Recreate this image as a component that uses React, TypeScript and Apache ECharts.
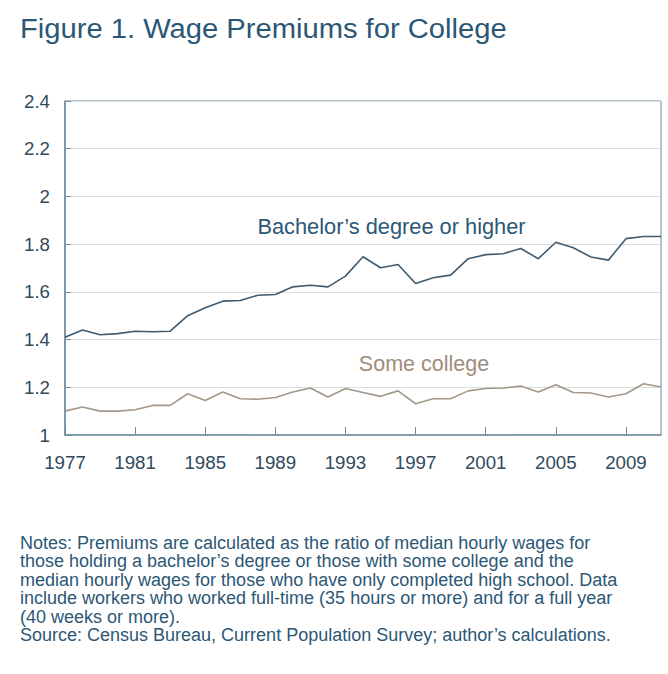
import React, { useEffect, useRef } from "react";
import * as echarts from "echarts";

const years: string[] = [];
for (let y = 1977; y <= 2011; y++) years.push(String(y));

const bachelors = [
  1.41, 1.44, 1.42, 1.425, 1.435, 1.433, 1.435, 1.5, 1.533, 1.561, 1.564, 1.586,
  1.589, 1.621, 1.628, 1.621, 1.666, 1.747, 1.701, 1.715, 1.635, 1.659, 1.67,
  1.739, 1.756, 1.76, 1.782, 1.739, 1.808, 1.785, 1.746, 1.733, 1.823, 1.832, 1.832,
];

const someCollege = [
  1.1, 1.117, 1.1, 1.1, 1.106, 1.124, 1.124, 1.173, 1.145, 1.18, 1.152, 1.15,
  1.157, 1.18, 1.197, 1.159, 1.195, 1.178, 1.162, 1.185, 1.131, 1.152, 1.152,
  1.185, 1.195, 1.197, 1.205, 1.18, 1.211, 1.178, 1.176, 1.159, 1.173, 1.215, 1.201,
];

const title = "Figure 1. Wage Premiums for College";
const bachelorsLabel = "Bachelor\u2019s degree or higher";
const someCollegeLabel = "Some college";
const notes = [
  "Notes: Premiums are calculated as the ratio of median hourly wages for",
  "those holding a bachelor\u2019s degree or those with some college and the",
  "median hourly wages for those who have only completed high school. Data",
  "include workers who worked full-time (35 hours or more) and for a full year",
  "(40 weeks or more).",
  "Source: Census Bureau, Current Population Survey; author\u2019s calculations.",
];

const FONT = "'Liberation Sans', Arial, sans-serif";
const BLUE = "#2c5775";
const TAN = "#a08c7a";
const AXIS = "#6f8a9c";

export default function App() {
  const ref = useRef<HTMLDivElement>(null);
  useEffect(() => {
    document.body.style.margin = "0";
    const chart = echarts.init(ref.current!, null, { renderer: "svg" });
    chart.setOption({
      animation: false,
      backgroundColor: "#ffffff",
      textStyle: { fontFamily: FONT },
      grid: {
        left: 65,
        right: 7,
        top: 101,
        bottom: 239,
        show: true,
        borderColor: AXIS,
        borderWidth: 1,
      },
      xAxis: {
        type: "category",
        data: years,
        boundaryGap: false,
        axisLine: { lineStyle: { color: AXIS, width: 1.5 } },
        axisTick: {
          inside: true,
          length: 8,
          interval: 3,
          lineStyle: { color: AXIS },
        },
        axisLabel: {
          interval: 3,
          color: "#2f4a5c",
          fontSize: 18.7,
          fontFamily: FONT,
          margin: 18,
        },
        splitLine: { show: false },
      },
      yAxis: {
        type: "value",
        min: 1,
        max: 2.4,
        interval: 0.2,
        axisLine: { show: true, lineStyle: { color: AXIS, width: 1.5 } },
        axisTick: { show: true, inside: true, length: 6, lineStyle: { color: AXIS } },
        axisLabel: {
          color: "#2f4a5c",
          fontSize: 18.7,
          fontFamily: FONT,
          margin: 15,
        },
        splitLine: { lineStyle: { color: "#d9dde0", width: 1 } },
      },
      series: [
        {
          type: "line",
          data: bachelors,
          symbol: "none",
          lineStyle: { color: "#3f5b6f", width: 1.6 },
        },
        {
          type: "line",
          data: someCollege,
          symbol: "none",
          lineStyle: { color: "#a3978a", width: 1.6 },
        },
      ],
      graphic: [
        {
          type: "text",
          x: 20,
          y: 29,
          scaleX: 1.08,
          style: {
            text: title,
            fontSize: 27,
            fontFamily: FONT,
            fill: BLUE,
            verticalAlign: "middle",
          },
        },
        {
          type: "text",
          x: 391.5,
          y: 226,
          style: {
            text: bachelorsLabel,
            fontSize: 21.8,
            fontFamily: FONT,
            fill: BLUE,
            align: "center",
            verticalAlign: "middle",
          },
        },
        {
          type: "text",
          x: 424,
          y: 364,
          style: {
            text: someCollegeLabel,
            fontSize: 21.5,
            fontFamily: FONT,
            fill: TAN,
            align: "center",
            verticalAlign: "middle",
          },
        },
        ...notes.map((line, i) => ({
          type: "text",
          x: 20,
          y: 543 + i * 18.4,
          style: {
            text: line,
            fontSize: 18,
            fontFamily: FONT,
            fill: BLUE,
            verticalAlign: "middle",
          },
        })),
      ],
    });
    return () => chart.dispose();
  }, []);
  return <div ref={ref} style={{ width: 668, height: 674 }} />;
}
